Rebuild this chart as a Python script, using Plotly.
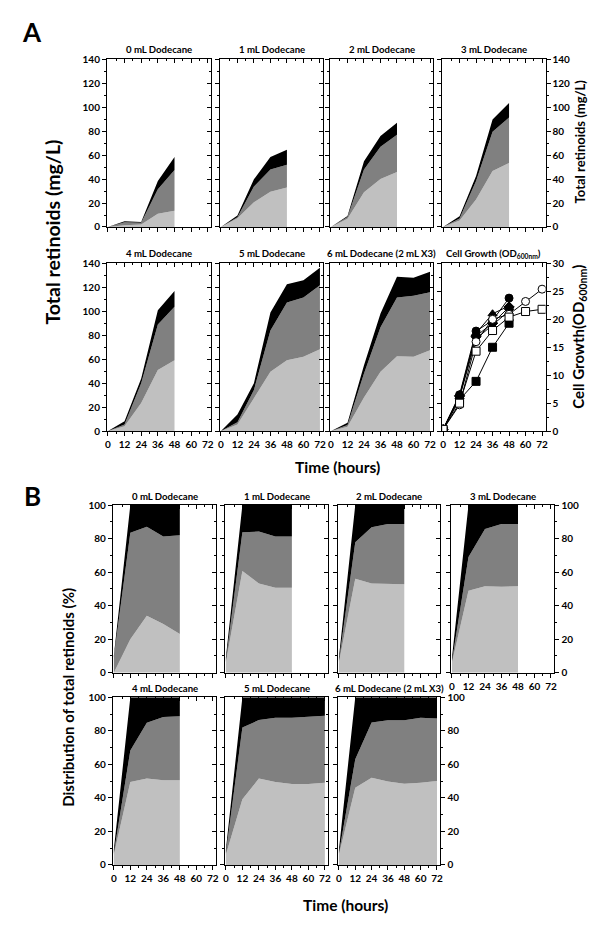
import plotly.graph_objects as go

# ---------------- DATA ----------------
hours = [0, 12, 24, 36, 48, 60, 72]

titles = ["0 mL Dodecane", "1 mL Dodecane", "2 mL Dodecane", "3 mL Dodecane",
          "4 mL Dodecane", "5 mL Dodecane", "6 mL Dodecane (2 mL X3)"]

# Panel A: retinoid components (mg/L), stacked: light (bottom), mid, dark (top)
a_light = [[0, 1.4, 2.0, 11.0, 13.5],
           [0, 7.4, 20.6, 29.4, 33.0],
           [0, 6.9, 29.0, 40.0, 46.0],
           [0, 5.5, 23.0, 46.7, 53.5],
           [0, 4.1, 23.4, 51.0, 59.2],
           [0, 5.5, 27.5, 49.6, 59.2, 62.0, 68.3],
           [0, 3.6, 28.0, 49.6, 62.5, 62.0, 67.5]]
a_mid = [[0, 2.6, 1.6, 20.5, 34.0],
         [0, 0.8, 13.2, 18.6, 19.0],
         [0, 1.5, 19.0, 27.0, 31.0],
         [0, 1.5, 15.4, 32.9, 37.9],
         [0, 1.4, 16.6, 38.0, 44.7],
         [0, 1.9, 6.9, 34.4, 48.2, 49.6, 53.5],
         [0, 1.5, 20.0, 37.2, 49.1, 51.0, 48.5]]
a_dark = [[0, 0.7, 0.5, 6.9, 11.0],
          [0, 1.4, 6.0, 10.5, 12.5],
          [0, 0.8, 7.0, 9.0, 10.0],
          [0, 2.0, 4.1, 10.2, 12.1],
          [0, 2.8, 4.0, 12.0, 13.1],
          [0, 6.4, 5.6, 15.0, 15.2, 14.4, 14.7],
          [0, 1.8, 7.0, 11.5, 17.4, 15.0, 17.0]]

# Panel B: distribution of total retinoids (%)
b_light = [[0, 20.0, 34.0, 29.0, 23.0],
           [6, 60.7, 53.2, 50.6, 50.6],
           [6, 56.0, 53.2, 52.8, 52.8],
           [6, 48.9, 51.6, 51.2, 51.6],
           [6, 49.5, 51.5, 50.5, 50.5],
           [6, 39.2, 51.5, 49.5, 48.3, 48.3, 49.0],
           [6, 46.0, 52.0, 49.7, 48.5, 49.0, 50.0]]
b_mid = [[9, 63.5, 53.0, 52.3, 59.0],
         [1, 23.0, 31.0, 30.7, 30.6],
         [1, 21.8, 33.5, 35.9, 35.9],
         [1, 20.1, 34.1, 37.5, 37.1],
         [1, 18.8, 33.3, 37.8, 38.2],
         [1, 42.8, 34.9, 38.3, 39.5, 40.0, 40.0],
         [1, 17.0, 33.0, 36.6, 37.8, 38.8, 37.3]]
b_dark = [[1, 16.5, 13.0, 18.7, 18.0],
          [2, 16.3, 15.8, 18.7, 18.8],
          [2, 22.2, 13.3, 11.3, 11.3],
          [2, 31.0, 14.3, 11.3, 11.3],
          [2, 31.7, 15.2, 11.7, 11.3],
          [2, 18.0, 13.6, 12.2, 12.2, 11.7, 11.0],
          [2, 37.0, 15.0, 13.7, 13.7, 12.2, 12.7]]

# Cell growth OD600nm
growth_0 = [0.3, 5.6, 8.9, 15.0, 19.3]
growth_1 = [0.3, 6.5, 17.9, 19.8, 23.8]
growth_2 = [0.3, 6.2, 17.5, 21.0, 22.4]
growth_3 = [0.3, 6.0, 16.5, 19.0, 21.5]
growth_4 = [0.3, 6.3, 17.0, 19.3, 22.2]
growth_5 = [0.3, 4.7, 16.0, 20.0, 20.9, 23.2, 25.4]
growth_6 = [0.3, 5.0, 14.3, 18.0, 20.4, 21.4, 21.8]

x_ticks = [0, 12, 24, 36, 48, 60, 72]

# ---------------- STYLE / LAYOUT ----------------
W, H = 600, 928
FONT = "Lato"
C_LIGHT, C_MID, C_DARK = "#c0c0c0", "#808080", "#000000"

def xd(a, b):
    return [a / W, b / W]

def yd(top, bottom):
    return [1 - bottom / H, 1 - top / H]

a_cols = [(98, 203), (212, 316), (323, 427), (436, 540)]
a_rows = [(45, 215), (252, 422)]
b_cols = [(104, 208), (217, 321), (331, 434), (445, 549)]
b_rows = [(497, 667), (692, 862)]

panels = []
for i in range(4):
    panels.append(dict(cols=a_cols, rows=a_rows, c=i, r=0, kind="A", s=i,
                       xlab=False, yl=(i == 0), yr=(i == 3)))
for i in range(3):
    panels.append(dict(cols=a_cols, rows=a_rows, c=i, r=1, kind="A", s=4 + i,
                       xlab=True, yl=(i == 0), yr=False))
panels.append(dict(cols=a_cols, rows=a_rows, c=3, r=1, kind="G", s=None,
                   xlab=True, yl=False, yr=True))
for i in range(4):
    panels.append(dict(cols=b_cols, rows=b_rows, c=i, r=0, kind="B", s=i,
                       xlab=(i == 3), yl=(i == 0), yr=(i == 3)))
for i in range(3):
    panels.append(dict(cols=b_cols, rows=b_rows, c=i, r=1, kind="B", s=4 + i,
                       xlab=True, yl=(i == 0), yr=(i == 2)))

tickfont = dict(family=FONT, size=10, color="black", weight="bold")
fig = go.Figure()
layout = dict(width=W, height=H, margin=dict(l=0, r=0, t=0, b=0),
              paper_bgcolor="white", plot_bgcolor="white", showlegend=False)
annotations = []
N = len(panels)

for k, p in enumerate(panels, start=1):
    x0, x1 = p["cols"][p["c"]]
    top, bot = p["rows"][p["r"]]
    if p["kind"] == "A":
        yr, ydt, ymn = [0, 140], 20, 10
    elif p["kind"] == "B":
        yr, ydt, ymn = [0, 100], 20, 10
    else:
        yr, ydt, ymn = [0, 30], 5, 2.5
    xr = [-0.5, 74.5]
    common = dict(showgrid=False, zeroline=False, fixedrange=True, tickfont=tickfont,
                  tickcolor="black", tickwidth=1.1)
    layout[f"xaxis{k}"] = dict(domain=xd(x0, x1), anchor=f"y{k}", range=xr,
                               tickmode="array", tickvals=x_ticks,
                               ticks="outside", ticklen=4, showline=True, linecolor="black",
                               linewidth=1.4, mirror=True, showticklabels=p["xlab"],
                               minor=dict(dtick=6, tick0=0, ticks="outside", ticklen=2,
                                          tickcolor="black"),
                               **common)
    layout[f"yaxis{k}"] = dict(domain=yd(top, bot), anchor=f"x{k}", range=yr,
                               dtick=ydt, tick0=0, ticks="outside", ticklen=4,
                               showline=True, linecolor="black", linewidth=1.4, mirror=True,
                               showticklabels=p["yl"],
                               minor=dict(dtick=ymn, tick0=0, ticks="outside", ticklen=2,
                                          tickcolor="black"),
                               **common)
    layout[f"xaxis{N + k}"] = dict(overlaying=f"x{k}", side="top", anchor=f"y{k}", range=xr,
                                   tickmode="array", tickvals=x_ticks, ticks="inside",
                                   ticklen=4, showticklabels=False, showline=False,
                                   minor=dict(dtick=6, tick0=0, ticks="inside", ticklen=2,
                                              tickcolor="black"),
                                   **common)
    rside = "outside" if p["yr"] else "inside"
    layout[f"yaxis{N + k}"] = dict(overlaying=f"y{k}", side="right", anchor=f"x{k}", range=yr,
                                   dtick=ydt, tick0=0, ticks=rside, ticklen=4,
                                   showticklabels=p["yr"], showline=False,
                                   minor=dict(dtick=ymn, tick0=0, ticks=rside, ticklen=2,
                                              tickcolor="black"),
                                   **common)
    fig.add_trace(go.Scatter(x=[], y=[], xaxis=f"x{N + k}", yaxis=f"y{N + k}",
                             showlegend=False, hoverinfo="skip"))

    xa, ya = f"x{k}", f"y{k}"
    if p["kind"] in ("A", "B"):
        s = p["s"]
        if p["kind"] == "A":
            comps = [a_light[s], a_mid[s], a_dark[s]]
        else:
            comps = [b_light[s], b_mid[s], b_dark[s]]
        for comp, col in zip(comps, [C_LIGHT, C_MID, C_DARK]):
            fig.add_trace(go.Scatter(x=hours[:len(comp)], y=comp, mode="lines",
                                     stackgroup=f"s{k}", line=dict(width=0, color=col),
                                     fillcolor=col, xaxis=xa, yaxis=ya,
                                     showlegend=False, hoverinfo="skip"))
        title = titles[s]
    else:
        series = [(growth_0, "square", "black"), (growth_1, "circle", "black"),
                  (growth_2, "triangle-up", "black"), (growth_3, "triangle-down", "black"),
                  (growth_4, "diamond", "black"), (growth_5, "circle", "white"),
                  (growth_6, "square", "white")]
        for vals, sym, fc in series:
            fig.add_trace(go.Scatter(x=hours[:len(vals)], y=vals, mode="lines+markers",
                                     line=dict(color="black", width=1),
                                     marker=dict(symbol=sym, size=8, color=fc,
                                                 line=dict(color="black", width=1)),
                                     xaxis=xa, yaxis=ya, showlegend=False,
                                     hoverinfo="skip"))
        title = "Cell Growth (OD<sub>600nm</sub>)"
    off = 10 if p["kind"] in ("A", "G") else 9
    annotations.append(dict(text=title, x=(x0 + x1) / 2 / W, y=1 - (top - off) / H,
                            xref="paper", yref="paper", xanchor="center", yanchor="middle",
                            showarrow=False,
                            font=dict(family=FONT, size=9.6, color="black", weight="bold")))

def big(text, x, y, size, angle=0):
    annotations.append(dict(text=text, x=x / W, y=1 - y / H, xref="paper", yref="paper",
                            xanchor="center", yanchor="middle", showarrow=False,
                            textangle=angle,
                            font=dict(family=FONT, size=size, color="black", weight="bold")))

big("A", 22, 17, 26)
big("B", 23, 488, 26)
big("Total retinoids (mg/L)", 43, 220, 19.5, -90)
big("Total retinoids (mg/L)", 575, 128, 13, -90)
big("Cell Growth(OD<sub>600nm</sub>)", 574, 326, 15, -90)
big("Time (hours)", 330, 458, 15.5)
big("Distribution of total retinoids (%)", 59, 692, 15, -90)
big("Time (hours)", 338, 903, 15.5)

layout["annotations"] = annotations
fig.update_layout(**layout)
fig.write_html("out.html")
